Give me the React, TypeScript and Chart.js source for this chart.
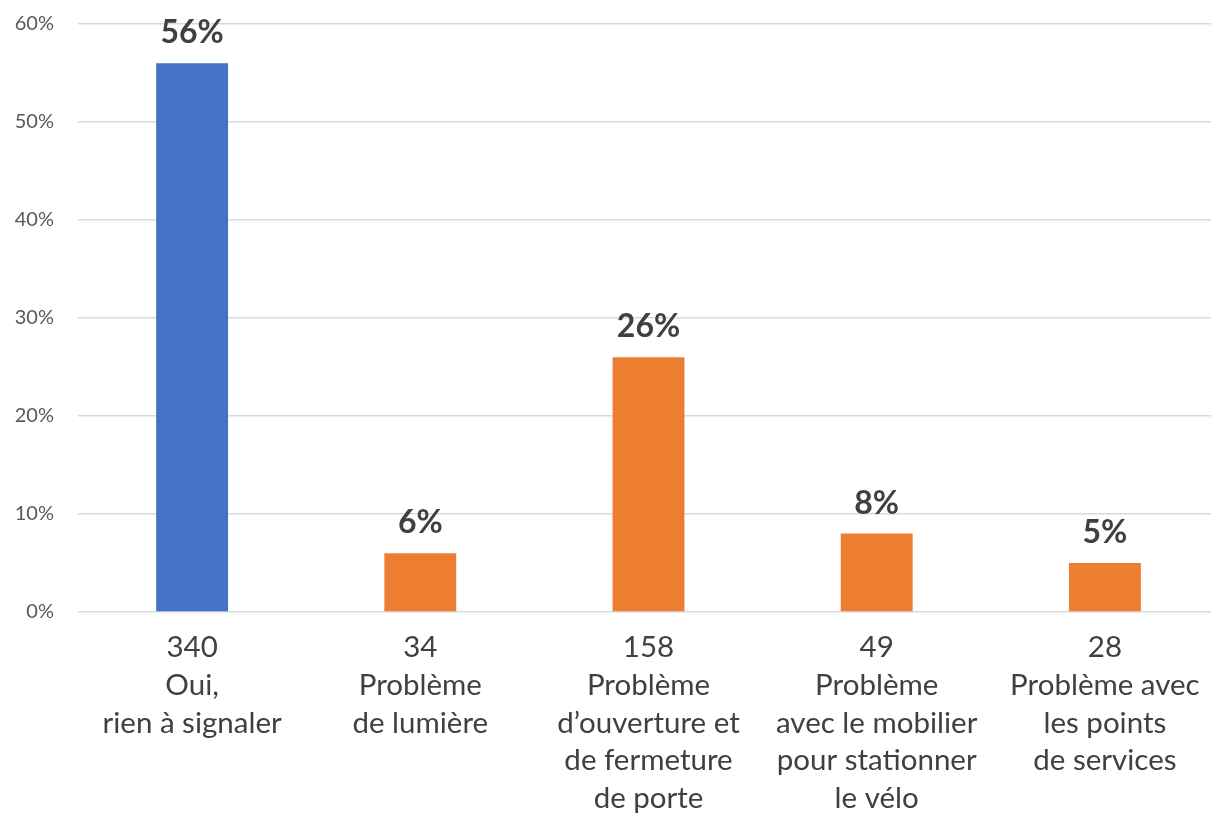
import React, { useEffect, useRef } from "react";
import { Chart, registerables } from "chart.js";

Chart.register(...registerables);

const counts = ["340", "34", "158", "49", "28"];
const descriptions = [
  ["Oui,", "rien à signaler"],
  ["Problème", "de lumière"],
  ["Problème", "d’ouverture et", "de fermeture", "de porte"],
  ["Problème", "avec le mobilier", "pour stationner", "le vélo"],
  ["Problème avec", "les points", "de services"],
];
const percentages = [56, 6, 26, 8, 5];
const barColors = ["#4472C4", "#ED7D31", "#ED7D31", "#ED7D31", "#ED7D31"];
const yTicks = [0, 10, 20, 30, 40, 50, 60];

const FONT = "Lato, 'Open Sans', sans-serif";

const dataLabelPlugin = {
  id: "dataLabels",
  afterDatasetsDraw(chart: any) {
    const ctx = chart.ctx;
    const meta = chart.getDatasetMeta(0);
    ctx.save();
    ctx.font = `bold 32px ${FONT}`;
    ctx.fillStyle = "#404040";
    ctx.textAlign = "center";
    ctx.textBaseline = "alphabetic";
    meta.data.forEach((bar: any, i: number) => {
      ctx.fillText(`${percentages[i]}%`, bar.x, bar.y - 20);
    });
    ctx.restore();
  },
};

export default function App() {
  const ref = useRef<HTMLCanvasElement | null>(null);

  useEffect(() => {
    if (!ref.current) return;
    const labels = counts.map((c, i) => [c, ...descriptions[i]]);
    const chart = new Chart(ref.current, {
      type: "bar",
      data: {
        labels,
        datasets: [
          {
            data: percentages,
            backgroundColor: barColors,
            borderWidth: 0,
            categoryPercentage: 1,
            barPercentage: 0.315,
          },
        ],
      },
      options: {
        animation: false,
        responsive: false,
        devicePixelRatio: 1,
        layout: { padding: { top: 24, left: 0, right: 0, bottom: 0 } },
        plugins: {
          legend: { display: false },
          tooltip: { enabled: false },
        },
        scales: {
          x: {
            grid: { display: false, drawTicks: false },
            border: { display: false },
            ticks: {
              color: "#404040",
              font: { family: FONT, size: 29.5, lineHeight: 1.278 },
              padding: 17,
              maxRotation: 0,
              autoSkip: false,
            },
            afterFit(scale: any) {
              scale.height = 206;
            },
          },
          y: {
            min: 0,
            max: 60,
            afterBuildTicks(scale: any) {
              scale.ticks = yTicks.map((v) => ({ value: v }));
            },
            grid: { color: "#d9d9d9", lineWidth: 1.5, drawTicks: false },
            border: { display: false },
            ticks: {
              color: "#595959",
              font: { family: FONT, size: 20 },
              padding: 24,
              callback: (v: any) => `${v}%`,
            },
            afterFit(scale: any) {
              scale.width = 78;
              scale.paddingTop = 0;
              scale.paddingBottom = 0;
            },
          },
        },
      },
      plugins: [dataLabelPlugin],
    });
    return () => chart.destroy();
  }, []);

  return (
    <div
      style={{
        position: "fixed",
        left: 0,
        top: 0,
        width: 1211,
        height: 818,
        overflow: "hidden",
        background: "#ffffff",
      }}
    >
      <canvas ref={ref} width={1219} height={818} style={{ display: "block" }} />
    </div>
  );
}
